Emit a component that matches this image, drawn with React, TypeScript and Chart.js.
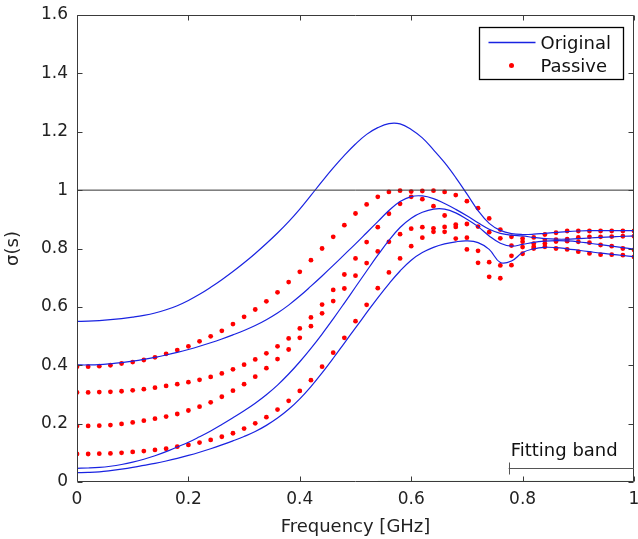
import { useEffect, useRef } from "react";
import { Chart, registerables } from "chart.js";

Chart.register(...registerables);

// Frequency grid [GHz]
const FREQ = [
  0, 0.02, 0.04, 0.06, 0.08, 0.1, 0.12, 0.14, 0.16, 0.18,
  0.2, 0.22, 0.24, 0.26, 0.28, 0.3, 0.32, 0.34, 0.36, 0.38,
  0.4, 0.42, 0.44, 0.46, 0.48, 0.5, 0.52, 0.54, 0.56, 0.58,
  0.6, 0.62, 0.64, 0.66, 0.68, 0.7, 0.72, 0.74, 0.76, 0.78,
  0.8, 0.82, 0.84, 0.86, 0.88, 0.9, 0.92, 0.94, 0.96, 0.98, 1,
];

// Original singular values (blue lines)
const ORIGINAL_1 = [
  0.550, 0.551, 0.553, 0.556, 0.560, 0.565, 0.571, 0.579, 0.590, 0.604,
  0.622, 0.643, 0.667, 0.693, 0.721, 0.751, 0.783, 0.817, 0.853, 0.892,
  0.935, 0.982, 1.030, 1.076, 1.119, 1.158, 1.191, 1.214, 1.228, 1.227,
  1.208, 1.179, 1.138, 1.094, 1.043, 0.987, 0.930, 0.886, 0.862, 0.851,
  0.848, 0.849, 0.852, 0.855, 0.858, 0.860, 0.861, 0.861, 0.861, 0.861, 0.861,
];
const ORIGINAL_2 = [
  0.401, 0.401, 0.402, 0.405, 0.409, 0.414, 0.420, 0.427, 0.435, 0.444,
  0.454, 0.465, 0.477, 0.490, 0.504, 0.519, 0.536, 0.556, 0.579, 0.606,
  0.637, 0.671, 0.706, 0.742, 0.779, 0.816, 0.854, 0.892, 0.930, 0.961,
  0.978, 0.980, 0.971, 0.954, 0.934, 0.912, 0.888, 0.866, 0.852, 0.846,
  0.843, 0.838, 0.834, 0.832, 0.832, 0.834, 0.836, 0.838, 0.840, 0.842, 0.843,
];
const ORIGINAL_3 = [
  0.047, 0.048, 0.050, 0.054, 0.060, 0.068, 0.078, 0.090, 0.104, 0.120,
  0.136, 0.155, 0.175, 0.197, 0.220, 0.244, 0.270, 0.299, 0.332, 0.370,
  0.412, 0.458, 0.507, 0.559, 0.613, 0.668, 0.723, 0.777, 0.828, 0.872,
  0.904, 0.924, 0.935, 0.935, 0.922, 0.900, 0.875, 0.843, 0.818, 0.808,
  0.814, 0.821, 0.825, 0.827, 0.826, 0.823, 0.818, 0.813, 0.808, 0.803, 0.798,
];
const ORIGINAL_4 = [
  0.032, 0.033, 0.035, 0.039, 0.044, 0.050, 0.057, 0.064, 0.072, 0.081,
  0.091, 0.102, 0.114, 0.127, 0.141, 0.156, 0.173, 0.194, 0.219, 0.249,
  0.285, 0.327, 0.374, 0.424, 0.476, 0.528, 0.580, 0.631, 0.679, 0.723,
  0.760, 0.786, 0.804, 0.816, 0.823, 0.826, 0.820, 0.797, 0.752, 0.757,
  0.786, 0.799, 0.804, 0.803, 0.799, 0.794, 0.789, 0.784, 0.780, 0.776, 0.772,
];

// Passive singular values (red dots)
const PASSIVE_1 = [
  0.395, 0.395, 0.397, 0.400, 0.406, 0.411, 0.418, 0.427, 0.439, 0.452,
  0.465, 0.482, 0.499, 0.518, 0.541, 0.566, 0.591, 0.619, 0.650, 0.685,
  0.720, 0.760, 0.800, 0.840, 0.880, 0.920, 0.951, 0.977, 0.994, 0.998,
  0.995, 0.997, 0.998, 0.994, 0.983, 0.962, 0.938, 0.903, 0.865, 0.840,
  0.834, 0.838, 0.848, 0.854, 0.860, 0.860, 0.860, 0.860, 0.860, 0.860, 0.860,
];
const PASSIVE_2 = [
  0.307, 0.307, 0.308, 0.309, 0.311, 0.314, 0.318, 0.323, 0.329, 0.335,
  0.342, 0.350, 0.360, 0.372, 0.386, 0.402, 0.420, 0.441, 0.465, 0.492,
  0.526, 0.564, 0.608, 0.658, 0.711, 0.766, 0.822, 0.873, 0.919, 0.953,
  0.977, 0.969, 0.945, 0.913, 0.882, 0.884, 0.875, 0.856, 0.835, 0.810,
  0.823, 0.817, 0.829, 0.830, 0.832, 0.838, 0.840, 0.840, 0.841, 0.842, 0.842,
];
const PASSIVE_3 = [
  0.192, 0.192, 0.193, 0.195, 0.199, 0.204, 0.210, 0.217, 0.224, 0.233,
  0.245, 0.258, 0.273, 0.292, 0.313, 0.335, 0.361, 0.390, 0.421, 0.454,
  0.494, 0.534, 0.578, 0.620, 0.663, 0.707, 0.750, 0.790, 0.823, 0.849,
  0.868, 0.873, 0.869, 0.874, 0.874, 0.837, 0.792, 0.753, 0.742, 0.775,
  0.805, 0.806, 0.817, 0.824, 0.825, 0.823, 0.820, 0.812, 0.808, 0.800, 0.795,
];
const PASSIVE_4 = [
  0.096, 0.096, 0.097, 0.098, 0.100, 0.103, 0.106, 0.110, 0.114, 0.121,
  0.127, 0.135, 0.144, 0.155, 0.167, 0.183, 0.201, 0.222, 0.248, 0.278,
  0.312, 0.349, 0.395, 0.443, 0.494, 0.551, 0.607, 0.664, 0.718, 0.766,
  0.808, 0.837, 0.857, 0.857, 0.834, 0.797, 0.751, 0.703, 0.698, 0.743,
  0.782, 0.800, 0.806, 0.800, 0.797, 0.789, 0.783, 0.779, 0.779, 0.777, 0.771,
];

// Reference / annotation values
const UNITY_FREQ = [0, 1];
const UNITY_LEVEL = [1, 1];
const NOISE_FREQ = [0.54, 1];
const NOISE_LEVEL = [0.002, 0.002];
const FIT_BAND = [0.775, 1];
const FIT_BAND_LEVEL = 0.048;
const FIT_BAND_LABEL = "Fitting band";

const X_TICKS = [0, 0.2, 0.4, 0.6, 0.8, 1];
const Y_TICKS = [0, 0.2, 0.4, 0.6, 0.8, 1, 1.2, 1.4, 1.6];
const LEGEND_LABELS = ["Original", "Passive"];

const BLUE = "rgb(25,35,225)";
const RED = "rgb(255,0,0)";
const FONT = "'DejaVu Sans', 'Liberation Sans', sans-serif";

const toXY = (xs: number[], ys: number[]) => xs.map((x, i) => ({ x, y: ys[i] }));
const fmt = (v: number) => String(Number(v.toFixed(1)));

const overlayPlugin = {
  id: "overlay",
  afterDraw(chart: any) {
    const { ctx, chartArea: a, scales } = chart;
    const xs = scales.x;
    const ys = scales.y;
    ctx.save();
    // Box
    ctx.strokeStyle = "#3a3a3a";
    ctx.lineWidth = 1;
    const L = Math.round(a.left) + 0.5;
    const R = Math.round(a.right) - 0.5;
    const T = Math.round(a.top) + 0.5;
    const B = Math.round(a.bottom) - 0.5;
    ctx.beginPath();
    ctx.moveTo(L, T);
    ctx.lineTo(R, T);
    ctx.lineTo(R, B);
    ctx.lineTo(L, B);
    ctx.closePath();
    ctx.stroke();
    // Inward ticks
    const tl = 5;
    ctx.beginPath();
    X_TICKS.forEach((v) => {
      const px = Math.round(xs.getPixelForValue(v)) + 0.5;
      ctx.moveTo(px, B);
      ctx.lineTo(px, B - tl);
      ctx.moveTo(px, T);
      ctx.lineTo(px, T + tl);
    });
    Y_TICKS.forEach((v) => {
      const py = Math.round(ys.getPixelForValue(v)) + 0.5;
      ctx.moveTo(L, py);
      ctx.lineTo(L + tl, py);
      ctx.moveTo(R, py);
      ctx.lineTo(R - tl, py);
    });
    ctx.stroke();

    // Fitting band annotation
    const fx0 = xs.getPixelForValue(FIT_BAND[0]);
    const fx1 = xs.getPixelForValue(FIT_BAND[1]);
    const fy = Math.round(ys.getPixelForValue(FIT_BAND_LEVEL)) + 0.5;
    ctx.strokeStyle = "#555";
    ctx.lineWidth = 1;
    ctx.beginPath();
    ctx.moveTo(fx0, fy);
    ctx.lineTo(fx1, fy);
    ctx.moveTo(Math.round(fx0) + 0.5, fy - 6);
    ctx.lineTo(Math.round(fx0) + 0.5, fy + 6);
    ctx.stroke();
    ctx.fillStyle = "#111";
    ctx.font = `18px ${FONT}`;
    ctx.textAlign = "left";
    ctx.textBaseline = "alphabetic";
    ctx.fillText(FIT_BAND_LABEL, fx0 + 2, fy - 13);

    // Legend
    const bw = 144;
    const bh = 52;
    const bx = Math.round(a.right - 11 - bw) + 0.5;
    const by = Math.round(a.top + 12) + 0.5;
    ctx.fillStyle = "#fff";
    ctx.fillRect(bx, by, bw, bh);
    ctx.strokeStyle = "#000";
    ctx.lineWidth = 1.3;
    ctx.strokeRect(bx, by, bw, bh);
    ctx.strokeStyle = BLUE;
    ctx.lineWidth = 1.3;
    ctx.beginPath();
    ctx.moveTo(bx + 9, by + 15);
    ctx.lineTo(bx + 56, by + 15);
    ctx.stroke();
    ctx.fillStyle = RED;
    ctx.beginPath();
    ctx.arc(bx + 32, by + 38, 2.5, 0, Math.PI * 2);
    ctx.fill();
    ctx.fillStyle = "#111";
    ctx.font = `18px ${FONT}`;
    ctx.fillText(LEGEND_LABELS[0], bx + 61, by + 21.5);
    ctx.fillText(LEGEND_LABELS[1], bx + 61, by + 44.5);
    ctx.restore();
  },
};

export default function App() {
  const canvasRef = useRef<HTMLCanvasElement | null>(null);

  useEffect(() => {
    if (!canvasRef.current) return;
    const lineDs = (ys: number[]) => ({
      type: "line" as const,
      data: toXY(FREQ, ys),
      borderColor: BLUE,
      borderWidth: 1.2,
      pointRadius: 0,
      fill: false,
      tension: 0.4,
    });
    const dotDs = (ys: number[]) => ({
      type: "line" as const,
      data: toXY(FREQ, ys),
      showLine: false,
      pointRadius: 2.4,
      pointBackgroundColor: RED,
      pointBorderWidth: 0,
      borderColor: RED,
    });
    const chart = new Chart(canvasRef.current, {
      type: "line",
      data: {
        datasets: [
          {
            type: "line",
            data: toXY(UNITY_FREQ, UNITY_LEVEL),
            borderColor: "#333",
            borderWidth: 1,
            pointRadius: 0,
          },
          {
            type: "line",
            data: toXY(NOISE_FREQ, NOISE_LEVEL),
            borderColor: "rgba(40,170,40,0.55)",
            borderWidth: 1,
            pointRadius: 0,
          },
          lineDs(ORIGINAL_1),
          lineDs(ORIGINAL_2),
          lineDs(ORIGINAL_3),
          lineDs(ORIGINAL_4),
          dotDs(PASSIVE_1),
          dotDs(PASSIVE_2),
          dotDs(PASSIVE_3),
          dotDs(PASSIVE_4),
        ] as any,
      },
      options: {
        animation: false,
        responsive: false,
        events: [],
        layout: { padding: { top: 15, right: 2, left: 0, bottom: 0 } },
        plugins: {
          legend: { display: false },
          tooltip: { enabled: false },
        },
        scales: {
          x: {
            type: "linear",
            min: 0,
            max: 1,
            afterBuildTicks: (s: any) => {
              s.ticks = X_TICKS.map((v) => ({ value: v }));
            },
            afterFit: (s: any) => {
              s.height = 57;
              s.paddingLeft = 0;
              s.paddingRight = 0;
            },
            ticks: {
              color: "#222",
              font: { family: FONT, size: 17 },
              padding: 7,
              maxRotation: 0,
              autoSkip: false,
              callback: (v: any) => fmt(Number(v)),
            },
            grid: { display: false, drawTicks: false },
            border: { display: false },
            title: {
              display: true,
              text: "Frequency [GHz]",
              color: "#222",
              font: { family: FONT, size: 18 },
              padding: { top: 0, bottom: 1 },
            },
          },
          y: {
            type: "linear",
            min: 0,
            max: 1.6,
            afterBuildTicks: (s: any) => {
              s.ticks = Y_TICKS.map((v) => ({ value: v }));
            },
            afterFit: (s: any) => {
              s.width = 77;
              s.paddingTop = 0;
              s.paddingBottom = 0;
            },
            ticks: {
              color: "#222",
              font: { family: FONT, size: 17 },
              padding: 9,
              autoSkip: false,
              callback: (v: any) => fmt(Number(v)),
            },
            grid: { display: false, drawTicks: false },
            border: { display: false },
            title: {
              display: true,
              text: "σ(s)",
              color: "#222",
              font: { family: FONT, size: 18 },
              padding: { top: 3, bottom: 0 },
            },
          },
        },
      },
      plugins: [overlayPlugin],
    });
    return () => chart.destroy();
  }, []);

  return (
    <div style={{ position: "absolute", left: 0, top: 0, width: 638, height: 539, background: "#fff" }}>
      <canvas ref={canvasRef} width={638} height={539} style={{ display: "block" }} />
    </div>
  );
}
